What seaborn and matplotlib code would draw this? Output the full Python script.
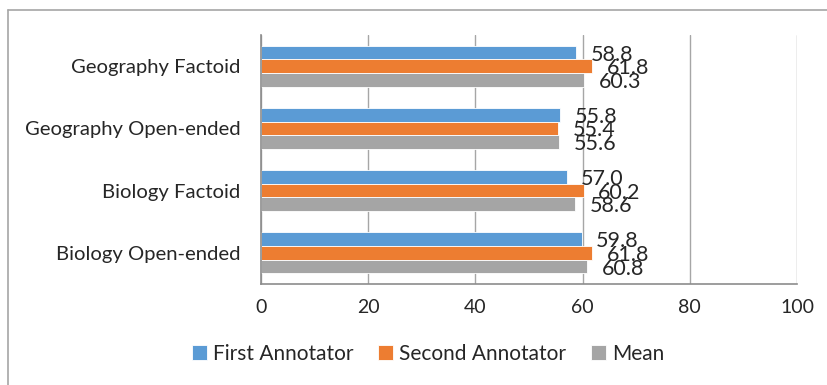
import matplotlib
matplotlib.use("Agg")
import matplotlib.pyplot as plt
from matplotlib.lines import Line2D
import seaborn as sns
import pandas as pd

categories = ["Geography Factoid", "Geography Open-ended", "Biology Factoid", "Biology Open-ended"]
series_names = ["First Annotator", "Second Annotator", "Mean"]
first_annotator = [58.8, 55.8, 57.0, 59.8]
second_annotator = [61.8, 55.4, 60.2, 61.8]
mean_values = [60.3, 55.6, 58.6, 60.8]
x_ticks = [0, 20, 40, 60, 80, 100]

colors = ["#5B9BD5", "#ED7D31", "#A5A5A5"]

rows = []
for name, vals in zip(series_names, [first_annotator, second_annotator, mean_values]):
    for cat, v in zip(categories, vals):
        rows.append({"Category": cat, "Series": name, "Value": v})
df = pd.DataFrame(rows)

sns.set_style("white")
plt.rcParams["font.family"] = ["Lato", "DejaVu Sans"]

fig = plt.figure(figsize=(8.28, 3.85), dpi=100)
ax = fig.add_axes([261 / 828, 1 - 284 / 385, (797 - 261) / 828, (284 - 35) / 385])

sns.barplot(data=df, y="Category", x="Value", hue="Series", order=categories,
            hue_order=series_names, palette=colors, orient="h", width=0.66,
            edgecolor="white", linewidth=0.6, saturation=1, ax=ax, legend=True)

ax.set_xlim(0, 100)
ax.set_ylim(3.5, -0.5)
ax.set_xticks(x_ticks)
ax.set_xticklabels([str(t) for t in x_ticks], fontsize=14, color="#262626")
ax.set_xlabel("")
ax.set_ylabel("")
ax.tick_params(axis="y", which="major", length=0, labelsize=14.6, labelcolor="#262626", pad=15)
ax.set_yticks([i - 0.5 for i in range(len(categories) + 1)], minor=True)
ax.tick_params(axis="y", which="minor", length=5, color="#8C8C8C", width=1)
ax.tick_params(axis="x", length=5, color="#8C8C8C", width=1, pad=6)

ax.grid(axis="x", color="#A6A6A6", linewidth=1)
ax.set_axisbelow(True)
for side in ["top", "right"]:
    ax.spines[side].set_visible(False)
for side in ["left", "bottom"]:
    ax.spines[side].set_color("#8C8C8C")
    ax.spines[side].set_linewidth(1.2)

# value labels just beyond each bar end
for container in ax.containers:
    for bar in container:
        w = bar.get_width()
        yc = bar.get_y() + bar.get_height() / 2
        ax.annotate(f"{w:.1f}", xy=(w, yc), xytext=(10.5, -1.5), textcoords="offset points",
                    ha="left", va="center", fontsize=15.5, color="#262626",
                    annotation_clip=False)

handles, labels = ax.get_legend_handles_labels()
ax.legend_.remove()
fig.legend(handles, labels, loc="center", bbox_to_anchor=(0.517, 1 - 354 / 385), ncol=3,
           frameon=False, fontsize=15, handlelength=0.7, handleheight=0.7,
           handletextpad=0.3, columnspacing=1.2)

# outer chart border (top and left edges)
fig.add_artist(Line2D([8 / 828, 1], [1 - 10 / 385, 1 - 10 / 385], transform=fig.transFigure,
                      color="#A6A6A6", linewidth=1.2))
fig.add_artist(Line2D([8 / 828, 8 / 828], [0, 1 - 10 / 385], transform=fig.transFigure,
                      color="#A6A6A6", linewidth=1.2))

fig.savefig("out.png", dpi=100, facecolor="white")
